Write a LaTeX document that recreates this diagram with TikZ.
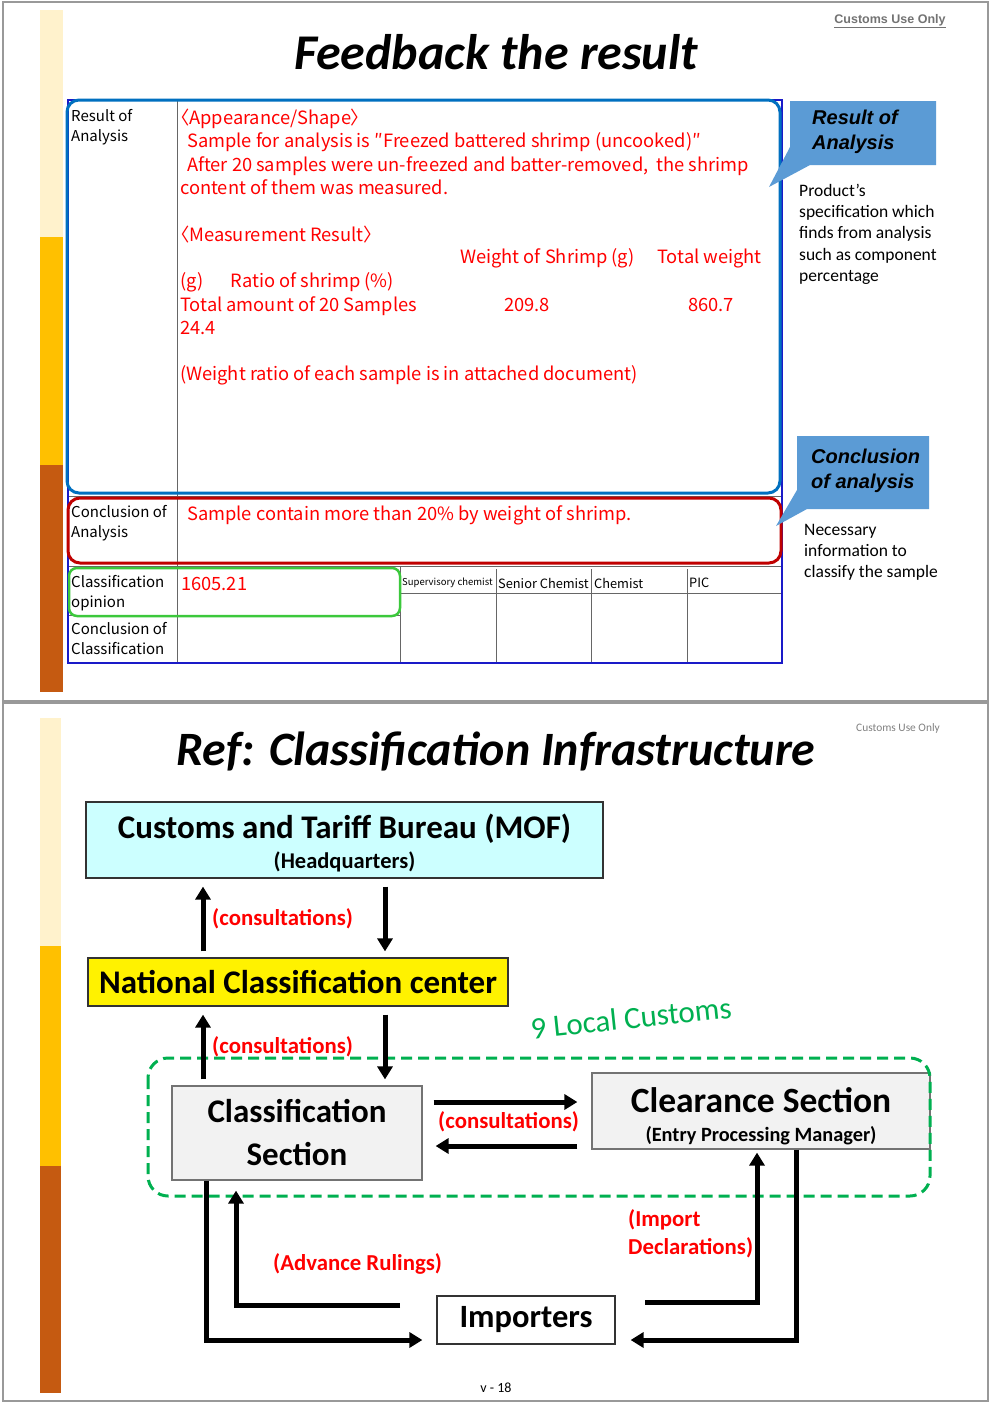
\documentclass[tikz,border=0pt]{standalone}
\usepackage{fontspec}
\setmainfont{Carlito}
\newfontfamily\tblfont[RawFeature=+palt]{Noto Sans CJK JP}
\newfontfamily\arialfont{Liberation Sans}
\usetikzlibrary{arrows.meta,positioning,calc}
\newcommand{\fz}[2]{\fontsize{#1}{#2}\selectfont}
\definecolor{cream}{HTML}{FFF2CC}
\definecolor{gold}{HTML}{FFC000}
\definecolor{rust}{HTML}{C55A11}
\definecolor{callblue}{HTML}{5B9BD5}
\definecolor{hlblue}{HTML}{0070C0}
\definecolor{hlred}{HTML}{C00000}
\definecolor{hlgreen}{HTML}{3CC83C}
\definecolor{tblue}{HTML}{1A1AC8}
\definecolor{lcyan}{HTML}{CCFFFF}
\definecolor{lgray}{HTML}{F2F2F2}
\definecolor{dgreen}{HTML}{00B050}
\tikzset{
  frame/.style={draw=black!40, line width=1.2pt},
  ttl/.style={font=\bfseries\itshape\fz{50}{56}, inner sep=0pt},
  grid/.style={draw=black!60, line width=1pt},
  hl/.style={rounded corners=12pt, line width=3pt},
  tbl/.style={font=\tblfont\fz{15}{20}, align=left, anchor=north west, inner sep=0pt},
  rtxt/.style={font=\tblfont\fz{18.3}{23.3}, text=red, align=left, anchor=north west, inner sep=0pt},
  hdr/.style={font=\tblfont\fz{12.8}{15}, anchor=west, inner sep=0pt},
  ctxt/.style={font=\arialfont\bfseries\itshape\fz{20}{24.5}, align=left, anchor=north west, inner sep=0pt},
  side/.style={font=\fz{17.5}{21.2}, align=left, anchor=north west, inner sep=0pt},
  box/.style={draw=black!80, line width=1.2pt, align=center, inner sep=0pt, font=\bfseries},
  arr/.style={line width=5pt, -{Triangle[length=13pt,width=15pt]}},
  lbl/.style={text=red, font=\bfseries\fz{22.8}{26}, inner sep=0pt},
}
\begin{document}
\begin{tikzpicture}[x=1pt,y=-1pt]
\fill[white] (0,0) rectangle (992,1403);
\draw[frame] (3,2) rectangle (988,701);
\draw[frame] (3,703) rectangle (988,1401);
\fill[cream] (40,10) rectangle (63,237);
\fill[gold] (40,237) rectangle (63,465);
\fill[rust] (40,465) rectangle (63,692);
\fill[cream] (40,718) rectangle (61,946);
\fill[gold] (40,946) rectangle (61,1166);
\fill[rust] (40,1166) rectangle (61,1393);

\node[font=\arialfont\bfseries\fz{12.5}{14}, text=black!55] (cuo1) at (890,21) {\underline{Customs Use Only}};
\node[ttl] (ttl1) at (496,52) {Feedback the result};

\draw[grid] (177,100) -- (177,663);
\draw[grid] (68,496) -- (782,496);
\draw[grid] (68,566) -- (782,566);
\draw[grid] (68,615) -- (400,615);
\draw[grid] (400,566) -- (400,663);
\foreach \cx in {496,591,687}
  \draw[grid] (\cx,569) -- (\cx,663);
\draw[grid] (400,593) -- (782,593);
\draw[tblue, line width=1.5pt] (68,100) rectangle (782,663);
\draw[hl, hlblue] (67,100) rectangle (780,493);
\draw[hl, hlred] (68,498) rectangle (781,563);
\draw[hl, hlgreen, line width=2.5pt, rounded corners=8pt] (69,568) rectangle (400,616);

\node[tbl] (ra) at (71,109) {Result of\\Analysis};
\node[tbl] (ca) at (71,505) {Conclusion of\\Analysis};
\node[tbl] (co) at (71,575) {Classification\\opinion};
\node[tbl] (cc) at (71,622) {Conclusion of\\Classification};
\node[rtxt] (body) at (180,109) {〈Appearance/Shape〉\\
\hspace*{7pt}Sample for analysis is ″Freezed battered shrimp (uncooked)″\\
\hspace*{7pt}After 20 samples were un-freezed and batter-removed,\ \ the shrimp\\
content of them was measured.\\
\mbox{}\\
〈Measurement Result〉\\
\mbox{}\\
(g)\hspace{1.5em}Ratio of shrimp (\%)\\
Total amount of 20 Samples\\
24.4\\
\mbox{}\\
(Weight ratio of each sample is in attached document)};
\node[rtxt, anchor=west] (wsh) at (460,258) {Weight of Shrimp (g)};
\node[rtxt, anchor=west] (tw) at (657,258) {Total weight};
\node[rtxt, anchor=west] (v1) at (504,305) {209.8};
\node[rtxt, anchor=west] (v2) at (688,305) {860.7};
\node[rtxt, anchor=west] (concl) at (187,515) {Sample contain more than 20\% by weight of shrimp.};
\node[rtxt, anchor=west] (hs) at (181,584) {1605.21};
\node[hdr, font=\tblfont\fz{9.5}{11}] (h1) at (402,583) {Supervisory chemist};
\node[hdr] (h2) at (498,583) {Senior Chemist};
\node[hdr] (h3) at (594,583) {Chemist};
\node[hdr] (h4) at (689,583) {PIC};

\fill[callblue] (790,101) -- (936,101) -- (936,165) -- (810,165) -- (769,187) -- (790,147) -- cycle;
\node[ctxt] (c1) at (812,110) {Result of\\Analysis};
\node[side] (s1) at (799,184) {Product’s\\specification which\\finds from analysis\\such as component\\percentage};
\fill[callblue] (797,436) -- (929,436) -- (929,509) -- (807,509) -- (776,526) -- (797,490) -- cycle;
\node[ctxt] (c2) at (811,449) {Conclusion\\of analysis};
\node[side] (s2) at (804,524) {Necessary\\information to\\classify the sample};

\node[font=\fz{11.4}{13}, text=black!50] (cuo2) at (898,728) {Customs Use Only};
\node[ttl, font=\bfseries\itshape\fz{47.9}{52}] (ttl2) at (496,751) {Ref: Classification Infrastructure};

\node[box, fill=lcyan, minimum width=517pt, minimum height=76pt, font=\bfseries\fz{33}{33}] (mof) at (344.5,840)
  {\rule{0pt}{31pt}Customs and Tariff Bureau (MOF)\\[-3pt]\fz{22.5}{24}(Headquarters)};
\node[box, fill=yellow, minimum width=420pt, minimum height=48pt, font=\bfseries\fz{33}{34}] (ncc) at (298,982)
  {National Classification center};
\node[box, fill=lgray, draw=black!55, minimum width=250pt, minimum height=94pt, font=\bfseries\fz{33}{43}] (cls) at (297,1133)
  {Classification\\Section};
\node[box, fill=lgray, draw=black!55, minimum width=338pt, minimum height=76pt, font=\bfseries\fz{35.5}{35.5}] (clr) at (761,1111)
  {\rule{0pt}{35.5pt}Clearance Section\\[-6pt]\fz{20.3}{22}(Entry Processing Manager)};
\node[box, fill=white, minimum width=178pt, minimum height=48pt, font=\bfseries\fz{32.5}{34}] (imp) at (526,1320)
  {Importers};

\draw[dgreen, line width=3pt, dash pattern=on 11pt off 6pt, rounded corners=20pt] (148,1058) rectangle (930,1196);
\node[text=dgreen, font=\fz{31}{34}, rotate=6, inner sep=0pt] (loc) at (631,1018) {9 Local Customs};

\coordinate (lx) at (203,0);
\coordinate (rx) at (385,0);
\draw[arr, shorten <=6pt, shorten >=8pt] (ncc.north -| lx) -- (mof.south -| lx);
\draw[arr, shorten <=8pt, shorten >=6pt] (mof.south -| rx) -- (ncc.north -| rx);
\node[lbl, anchor=west] (cn1) at (212,919) {(consultations)};
\draw[arr, shorten <=6pt, shorten >=8pt] (cls.north -| lx) -- (ncc.south -| lx);
\draw[arr, shorten <=8pt, shorten >=6pt] (ncc.south -| rx) -- (cls.north -| rx);
\node[lbl, anchor=west] (cn2) at (212,1047) {(consultations)};

\coordinate (hy1) at (0,1102);
\coordinate (hy2) at (0,1146);
\draw[arr, shorten <=11pt, shorten >=14pt] (cls.east |- hy1) -- (clr.west |- hy1);
\draw[arr, shorten <=14pt, shorten >=13pt] (clr.west |- hy2) -- (cls.east |- hy2);
\node[lbl, anchor=west] (cn3) at (438,1122) {(consultations)};

\coordinate (ax) at (236,0);
\coordinate (bx) at (206,0);
\coordinate (cx) at (757,0);
\coordinate (dx) at (796,0);
\coordinate (by) at (0,1340);
\coordinate (advS) at (400,1305);
\coordinate (impS) at (645,1302);
\draw[arr, shorten >=10pt] (advS) -| (cls.south -| ax);
\draw[arr, shorten >=14pt] (cls.south -| bx) |- (imp.west |- by);
\draw[arr, shorten >=3pt] (impS) -| (clr.south -| cx);
\draw[arr, shorten >=15pt] (clr.south -| dx) |- (imp.east |- by);
\node[lbl, anchor=west] (adv) at (273,1264) {(Advance Rulings)};
\node[lbl, anchor=north west, align=left, font=\bfseries\fz{22.8}{28}] (idc) at (628,1209) {(Import\\Declarations)};

\node[font=\fz{14}{16}, inner sep=0pt] (pg) at (496,1388) {v - 18};
\end{tikzpicture}
\end{document}
